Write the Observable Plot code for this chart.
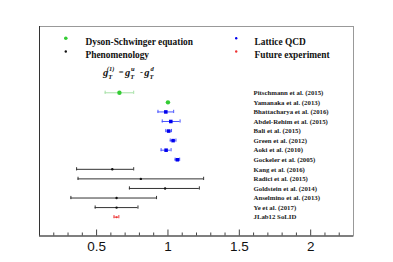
<!DOCTYPE html>
<html>
<head>
<meta charset="utf-8">
<script src="https://cdn.jsdelivr.net/npm/d3@7"></script>
<script src="https://cdn.jsdelivr.net/npm/@observablehq/plot@0.6"></script>
<style>
  html, body { margin: 0; padding: 0; background: #fff; }
  #chart svg { display: block; }
</style>
</head>
<body>
<div id="chart"></div>
<script>
// ---- data ----
const labels = [
  "Pitschmann et al. (2015)", "Yamanaka et al. (2013)", "Bhattacharya et al. (2016)",
  "Abdel-Rehim et al. (2015)", "Bali et al. (2015)", "Green et al. (2012)",
  "Aoki et al. (2010)", "Gockeler et al. (2005)", "Kang et al. (2016)",
  "Radici et al. (2015)", "Goldstein et al. (2014)", "Anselmino et al. (2013)",
  "Ye et al. (2017)", "JLab12 SoLID"
];
const groups = ["DSE", "DSE", "LQCD", "LQCD", "LQCD", "LQCD", "LQCD", "LQCD",
  "Phen", "Phen", "Phen", "Phen", "Phen", "Future"];
const centers = [0.66, 1.00, 0.985, 1.02, 1.005, 1.036, 0.987, 1.066, 0.61, 0.81, 0.98, 0.64, 0.64, 0.64];
const lows    = [0.56, 1.00, 0.93, 0.96, 0.985, 1.016, 0.952, 1.05, 0.36, 0.37, 0.73, 0.32, 0.49, 0.622];
const highs   = [0.76, 1.00, 1.04, 1.085, 1.025, 1.056, 1.022, 1.082, 0.76, 1.25, 1.22, 0.92, 0.79, 0.656];

const legendLabels = ["Dyson-Schwinger equation", "Phenomenology", "Lattice QCD", "Future experiment"];
const legendGroups = ["DSE", "Phen", "LQCD", "Future"];

const majorTicks = [0.5, 1, 1.5, 2];
const majorTickLabels = ["0.5", "1", "1.5", "2"];
const minorTicks = [0.2, 0.3, 0.4, 0.6, 0.7, 0.8, 0.9, 1.1, 1.2, 1.3, 1.4, 1.6, 1.7, 1.8, 1.9, 2.1, 2.2];

// ---- styles ----
const markerColor = {DSE: "#33cc33", LQCD: "#0000ee", Phen: "#111111", Future: "#ee3333"};
const barColor = {DSE: "#a6e0a6", LQCD: "#4a55ff", Phen: "#333333", Future: "#ee4444"};

const rows = labels.map((label, i) => ({
  label, i, group: groups[i], c: centers[i], lo: lows[i], hi: highs[i]
}));
const barRows = rows.filter(d => d.hi > d.lo);
const caps = barRows.flatMap(d => [{...d, x: d.lo}, {...d, x: d.hi}]);

const W = 393, H = 262;
const mL = 39, mR = 40, mT = 26, mB = 26.5;
const frameH = H - mT - mB;
const xDomain = [0.1, 2.3];
const yDomain = [-6.93, 14.97];
const capHalf = 0.17;

const serif = "'Liberation Serif', 'Times New Roman', serif";

const plot = Plot.plot({
  width: W, height: H,
  marginLeft: mL, marginRight: mR, marginTop: mT, marginBottom: mB,
  x: {domain: xDomain, ticks: majorTicks, tickFormat: (d) => majorTickLabels[majorTicks.indexOf(d)] ?? ""},
  y: {domain: yDomain, reverse: true, axis: null},
  style: {fontFamily: "'Liberation Sans', Arial, sans-serif", background: "#fff"},
  marks: [
    Plot.frame({stroke: "#999", strokeWidth: 1}),
    Plot.ruleX([xDomain[0]], {stroke: "#333", strokeWidth: 1}),
    Plot.ruleY([yDomain[1]], {stroke: "#333", strokeWidth: 1}),
    // inner ticks
    Plot.ruleX(minorTicks, {stroke: "#444", strokeWidth: 1, insetTop: frameH - 3}),
    Plot.ruleX(majorTicks, {stroke: "#444", strokeWidth: 1, insetTop: frameH - 6}),
    Plot.axisX(majorTicks, {tickSize: 0, tickPadding: 5, fontSize: 13.5, fill: "#111",
      tickFormat: (d) => majorTickLabels[majorTicks.indexOf(d)]}),
    // error bars
    Plot.ruleY(barRows, {y: "i", x1: "lo", x2: "hi", stroke: d => barColor[d.group], strokeWidth: 1}),
    Plot.ruleX(caps, {x: "x", y1: d => d.i - capHalf, y2: d => d.i + capHalf, stroke: d => barColor[d.group], strokeWidth: 1}),
    // markers
    Plot.dot(rows.filter(d => d.group === "DSE"), {x: "c", y: "i", r: 2.2, fill: markerColor.DSE, stroke: "none"}),
    Plot.dot(rows.filter(d => d.group === "LQCD"), {x: "c", y: "i", r: 2, symbol: "square", fill: markerColor.LQCD, stroke: "none"}),
    Plot.dot(rows.filter(d => d.group === "Phen"), {x: "c", y: "i", r: 1.2, fill: markerColor.Phen, stroke: "none"}),
    Plot.dot(rows.filter(d => d.group === "Future"), {x: "c", y: "i", r: 1, fill: markerColor.Future, stroke: "none"}),
    // row labels
    Plot.text(rows, {y: "i", text: "label", frameAnchor: "left", dx: 214, textAnchor: "start",
      fontFamily: serif, fontWeight: "bold", fontSize: 6.8, fill: "#222"}),
    // legend markers
    ...legendGroups.map((g, k) => Plot.dot([g], {
      frameAnchor: "top-left",
      dx: (k < 2 ? 26.3 : 196.7), dy: (k % 2 === 0 ? 11.7 : 25),
      r: g === "DSE" ? 1.8 : 1.2, fill: markerColor[g], stroke: "none"
    })),
    ...legendLabels.map((t, k) => Plot.text([t], {
      frameAnchor: "top-left", textAnchor: "start", text: d => d,
      dx: (k < 2 ? 46 : 215), dy: (k % 2 === 0 ? 11.7 : 25),
      fontFamily: serif, fontWeight: "bold", fontSize: 9.4, fill: "#111"
    }))
  ]
});

// formula g_T^(1) = g_T^u - g_T^d
const svg = d3.select(plot);
const fg = svg.append("g")
  .attr("font-family", serif)
  .attr("font-weight", "bold")
  .attr("fill", "#111");
const parts = [
  {t: "g", x: 105.5, y: 75.5, s: 10.5, it: true},
  {t: "(1)", x: 110.6, y: 71.3, s: 6.5, it: true},
  {t: "T", x: 110.2, y: 79.3, s: 6.5, it: true},
  {t: "=", x: 121.2, y: 75.3, s: 8.5, it: false},
  {t: "g", x: 127.6, y: 75.5, s: 10.5, it: true},
  {t: "u", x: 132.7, y: 71.3, s: 6.5, it: true},
  {t: "T", x: 132.3, y: 79.3, s: 6.5, it: true},
  {t: "-", x: 141.6, y: 75.3, s: 9, it: false},
  {t: "g", x: 146.8, y: 75.5, s: 10.5, it: true},
  {t: "d", x: 152.0, y: 71.3, s: 6.5, it: true},
  {t: "T", x: 151.6, y: 79.3, s: 6.5, it: true}
];
parts.forEach(p => {
  fg.append("text").attr("x", p.x).attr("y", p.y)
    .attr("font-size", p.s).attr("font-style", p.it ? "italic" : "normal")
    .text(p.t);
});

document.getElementById("chart").append(plot);
</script>
</body>
</html>
